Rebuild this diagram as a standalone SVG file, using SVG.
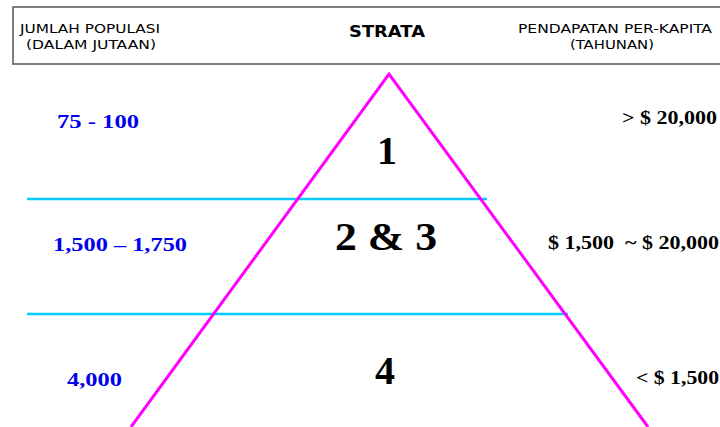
<svg xmlns="http://www.w3.org/2000/svg" width="720" height="427" viewBox="0 0 720 427">
<style>
.hdr{font-family:"DejaVu Sans Condensed","DejaVu Sans",sans-serif;font-size:12px;fill:#000}
.blue{font-family:"Liberation Serif",serif;font-weight:bold;font-size:19px;fill:#0000ee}
.inc{font-family:"Liberation Serif",serif;font-weight:bold;font-size:18px;fill:#000}
.num{font-family:"Liberation Serif",serif;font-weight:bold;font-size:40px;fill:#000;text-anchor:middle}
.band{stroke:#00ccff;stroke-width:2.5;fill:none}
.tri{stroke:#ff00ff;stroke-width:3;fill:none}
</style>
<rect width="720" height="427" fill="#fff"/>
<g id="header">
<rect x="13" y="7" width="720" height="57" fill="#fff" stroke="#555" stroke-width="1.5"/>
<text class="hdr" x="20" y="33" textLength="140" lengthAdjust="spacingAndGlyphs">JUMLAH POPULASI</text>
<text class="hdr" x="26" y="49" textLength="130" lengthAdjust="spacingAndGlyphs">(DALAM JUTAAN)</text>
<text x="349" y="37" font-family="'DejaVu Sans',sans-serif" font-weight="bold" font-size="16" textLength="76" lengthAdjust="spacingAndGlyphs">STRATA</text>
<text class="hdr" x="518" y="33" textLength="194" lengthAdjust="spacingAndGlyphs">PENDAPATAN PER-KAPITA</text>
<text class="hdr" x="570" y="49" textLength="84" lengthAdjust="spacingAndGlyphs">(TAHUNAN)</text>
</g>
<g id="connectors">
<line class="band" x1="27" y1="199" x2="487" y2="199"/>
<line class="band" x1="27" y1="314" x2="568" y2="314"/>
<polyline class="tri" points="131,427 389,74 648,427"/>
</g>
<g id="stratum1">
<text class="blue" x="57" y="128" textLength="82" lengthAdjust="spacingAndGlyphs">75 - 100</text>
<text class="num" x="387" y="164">1</text>
<text class="inc" x="622" y="124" textLength="95" lengthAdjust="spacingAndGlyphs">&gt; $ 20,000</text>
</g>
<g id="stratum23">
<text class="blue" x="53" y="251" textLength="134" lengthAdjust="spacingAndGlyphs">1,500 – 1,750</text>
<text x="335" y="250" font-family="'Liberation Serif',serif" font-weight="bold" font-size="40" textLength="102" lengthAdjust="spacingAndGlyphs">2 &amp; 3</text>
<text class="inc" x="548" y="249" xml:space="preserve" textLength="171" lengthAdjust="spacingAndGlyphs">$ 1,500  ~ $ 20,000</text>
</g>
<g id="stratum4">
<text class="blue" x="67" y="386" textLength="55" lengthAdjust="spacingAndGlyphs">4,000</text>
<text class="num" x="385" y="384">4</text>
<text class="inc" x="636" y="384" textLength="83" lengthAdjust="spacingAndGlyphs">&lt; $ 1,500</text>
</g>
</svg>
